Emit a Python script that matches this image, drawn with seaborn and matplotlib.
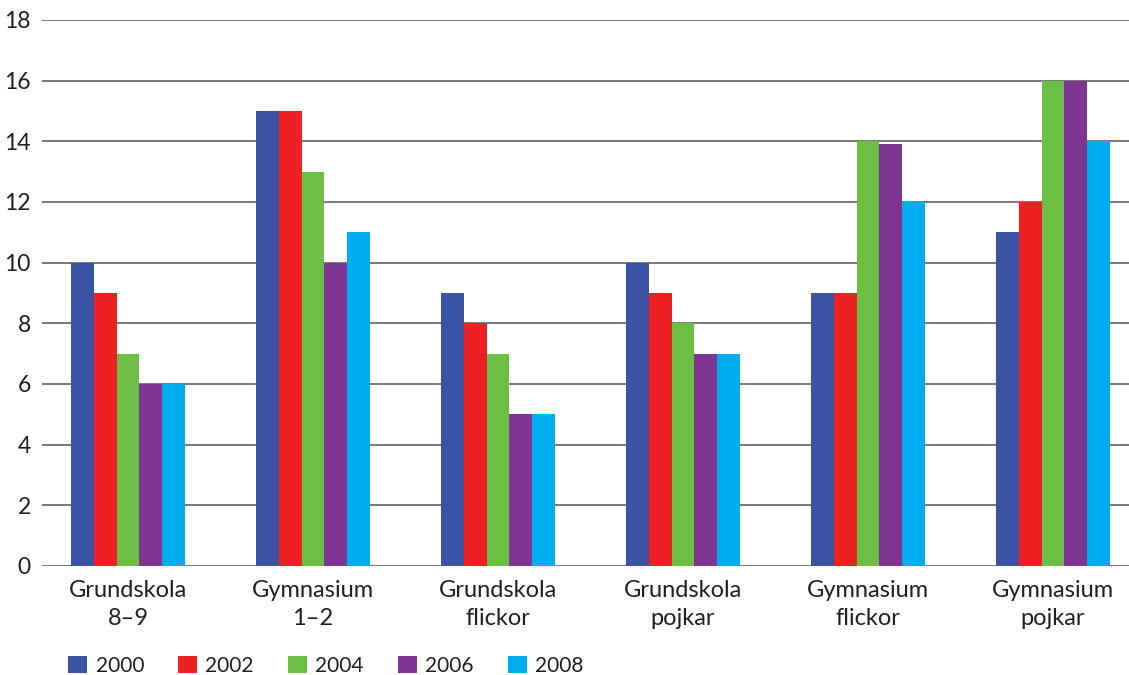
import matplotlib
matplotlib.use("Agg")
import matplotlib.pyplot as plt
import seaborn as sns
import pandas as pd

categories = ["Grundskola\n8–9", "Gymnasium\n1–2", "Grundskola\nflickor",
              "Grundskola\npojkar", "Gymnasium\nflickor", "Gymnasium\npojkar"]
years = ["2000", "2002", "2004", "2006", "2008"]
values = {
    "2000": [10, 15, 9, 10, 9, 11],
    "2002": [9, 15, 8, 9, 9, 12],
    "2004": [7, 13, 7, 8, 14, 16],
    "2006": [6, 10, 5, 7, 13.9, 16],
    "2008": [6, 11, 5, 7, 12, 14],
}
colors = ["#3A53A4", "#ED2024", "#6DBE45", "#7F3592", "#00AEEF"]

rows = []
for y in years:
    for c, v in zip(categories, values[y]):
        rows.append({"Kategori": c, "År": y, "Värde": v})
df = pd.DataFrame(rows)

sns.set_theme(style="white")
plt.rcParams["font.family"] = ["Lato", "DejaVu Sans"]
text_color = "#231F20"

fig = plt.figure(figsize=(11.29, 6.75), dpi=100)
ax = fig.add_axes([0.0372, 0.1615, 0.9628, 0.8089])

sns.barplot(data=df, x="Kategori", y="Värde", hue="År", hue_order=years,
            palette=colors, width=0.616, gap=0, saturation=1,
            edgecolor="none", linewidth=0, ax=ax, legend=True)

ax.set_ylim(0, 18)
ax.set_yticks(range(0, 19, 2))
ax.set_xlim(-0.465, 5.411)
ax.yaxis.grid(True, color="#555555", linewidth=1.1)
ax.set_axisbelow(True)
for s in ax.spines.values():
    s.set_visible(False)
ax.set_xlabel("")
ax.set_ylabel("")
ax.tick_params(axis="both", length=0, colors=text_color)
ax.tick_params(axis="y", pad=8, labelsize=16.5)
ax.tick_params(axis="x", pad=10, labelsize=17)
for lbl in ax.get_xticklabels():
    lbl.set_linespacing(1.4)

handles, labels = ax.get_legend_handles_labels()
ax.legend_.remove()
fig.legend(handles, labels, loc="lower left", bbox_to_anchor=(0.044, -0.029),
           ncol=5, frameon=False, fontsize=15, handlelength=0.9,
           handleheight=0.9, handletextpad=0.4, columnspacing=1.65,
           labelcolor=text_color)

fig.savefig("out.png", dpi=100)
